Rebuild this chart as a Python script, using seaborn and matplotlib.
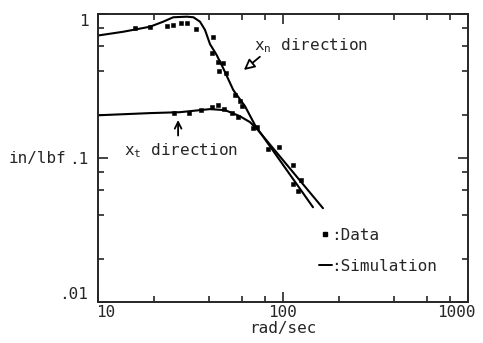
import numpy as np
import pandas as pd
import matplotlib
matplotlib.use("Agg")
import matplotlib.pyplot as plt
import matplotlib.transforms as mtransforms
import seaborn as sns
from matplotlib.lines import Line2D
from matplotlib.ticker import LogLocator, NullFormatter, FixedLocator

# ---------------- data ----------------
xn_data_freq = [15.9, 19.1, 23.7, 25.5, 28.0, 30.4, 33.9, 42.0, 41.2, 44.7, 47.6,
                45.3, 48.9, 55.0, 58.5, 60.0, 72.6, 83.3, 112.8, 121.0]
xn_data_mag = [0.796, 0.808, 0.829, 0.843, 0.870, 0.870, 0.790, 0.695, 0.538, 0.466,
               0.454, 0.405, 0.391, 0.275, 0.250, 0.229, 0.165, 0.1146, 0.0665, 0.0588]

xt_data_freq = [25.7, 31.2, 35.9, 41.2, 44.7, 48.0, 52.8, 57.3, 69.1, 95.5, 112.8, 124.6]
xt_data_mag = [0.206, 0.206, 0.215, 0.2275, 0.233, 0.219, 0.204, 0.194, 0.162, 0.119,
               0.089, 0.0709]

xn_sim_freq = [10, 13.7, 19.1, 22.5, 25.5, 30.2, 32.8, 35.6, 37.9, 40.3, 43.8, 47.6,
               53.9, 62.3, 70.6, 145.3]
xn_sim_mag = [0.709, 0.753, 0.816, 0.884, 0.949, 0.958, 0.949, 0.884, 0.774, 0.618,
              0.519, 0.418, 0.296, 0.229, 0.169, 0.0455]

xt_sim_freq = [10, 19.1, 27.7, 40.3, 48.6, 58.5, 66.3, 73.3, 164.5]
xt_sim_mag = [0.198, 0.205, 0.208, 0.2185, 0.215, 0.195, 0.1775, 0.156, 0.0448]

x_ticks = [10, 100, 1000]
x_ticklabels = ["10", "100", "1000"]
y_ticks = [0.01, 0.1, 1]
y_ticklabels = [".01", ".1", "1"]

# ---------------- style ----------------
sns.set_style("ticks")
plt.rcParams["font.family"] = ["DejaVu Sans Mono"]
plt.rcParams["font.size"] = 11.5

fig = plt.figure(figsize=(4.83, 3.43), dpi=100)
ax = fig.add_axes([98 / 483, 1 - 302 / 343, 370 / 483, 288 / 343])

ax.set_xscale("log")
ax.set_yscale("log")

sim_df = pd.concat([
    pd.DataFrame({"f": xn_sim_freq, "m": xn_sim_mag, "s": "xn"}),
    pd.DataFrame({"f": xt_sim_freq, "m": xt_sim_mag, "s": "xt"}),
])
dat_df = pd.concat([
    pd.DataFrame({"f": xn_data_freq, "m": xn_data_mag, "s": "xn"}),
    pd.DataFrame({"f": xt_data_freq, "m": xt_data_mag, "s": "xt"}),
])

sns.lineplot(data=sim_df, x="f", y="m", units="s", estimator=None, color="black",
             lw=1.5, ax=ax, legend=False)
sns.scatterplot(data=dat_df, x="f", y="m", marker="s", s=9, color="black",
                edgecolor="black", linewidth=0.4, ax=ax, legend=False, zorder=3)

ax.set_xlim(10, 1000)
ax.set_ylim(0.01, 1)

ax.xaxis.set_major_locator(FixedLocator(x_ticks))
ax.set_xticklabels(x_ticklabels)
ax.yaxis.set_major_locator(FixedLocator(y_ticks))
ax.set_yticklabels(y_ticklabels)
ax.xaxis.set_minor_locator(LogLocator(base=10, subs=(2, 4, 6, 8)))
ax.yaxis.set_minor_locator(LogLocator(base=10, subs=(2, 4, 6, 8)))
ax.xaxis.set_minor_formatter(NullFormatter())
ax.yaxis.set_minor_formatter(NullFormatter())

ax.tick_params(which="both", direction="in", top=True, right=True, width=1.2)
ax.tick_params(which="major", length=7, labelsize=11.5)
ax.tick_params(axis="x", which="major", pad=2)
ax.tick_params(axis="y", which="major", pad=7)
ax.tick_params(which="minor", length=4)
for sp in ax.spines.values():
    sp.set_linewidth(1.4)
    sp.set_visible(True)

# tick label placement like the reference
xtl = ax.get_xticklabels()
xtl[0].set_ha("left")
xtl[0].set_transform(xtl[0].get_transform() +
                     mtransforms.ScaledTranslation(-2 / 100, 0, fig.dpi_scale_trans))
xtl[2].set_transform(xtl[2].get_transform() +
                     mtransforms.ScaledTranslation(-12 / 100, 0, fig.dpi_scale_trans))
ytl = ax.get_yticklabels()
ytl[0].set_va("bottom")
ytl[2].set_va("top")

ax.set_xlabel("rad/sec", fontsize=11.5, labelpad=1)
ax.set_ylabel("in/lbf", fontsize=11.5, rotation=0, ha="right", va="center")
ax.yaxis.set_label_coords(-0.085, 0.5)

# annotations
ax.annotate("", xy=(59.8, 0.397), xytext=(77.0, 0.519),
            arrowprops=dict(arrowstyle="-|>", fc="white", ec="black", lw=1.3,
                            mutation_scale=16))
ax.text(70.0, 0.60, r"x$_\mathregular{n}$ direction", fontsize=11.5, ha="left", va="center")

ax.annotate("", xy=(27.1, 0.192), xytext=(27.1, 0.137),
            arrowprops=dict(arrowstyle="->", color="black", lw=1.3, mutation_scale=12))
ax.text(13.8, 0.113, r"x$_\mathregular{t}$ direction", fontsize=11.5, ha="left", va="center")

handles = [Line2D([], [], ls="none", marker="s", ms=3, color="black"),
           Line2D([], [], ls="-", lw=1.4, color="black")]
ax.legend(handles, [":Data", ":Simulation"], loc="upper left",
          bbox_to_anchor=(0.575, 0.285), frameon=False, handlelength=0.8,
          handletextpad=0.0, labelspacing=1.0, fontsize=11.5, borderpad=0)

fig.savefig("out.png", dpi=100)
